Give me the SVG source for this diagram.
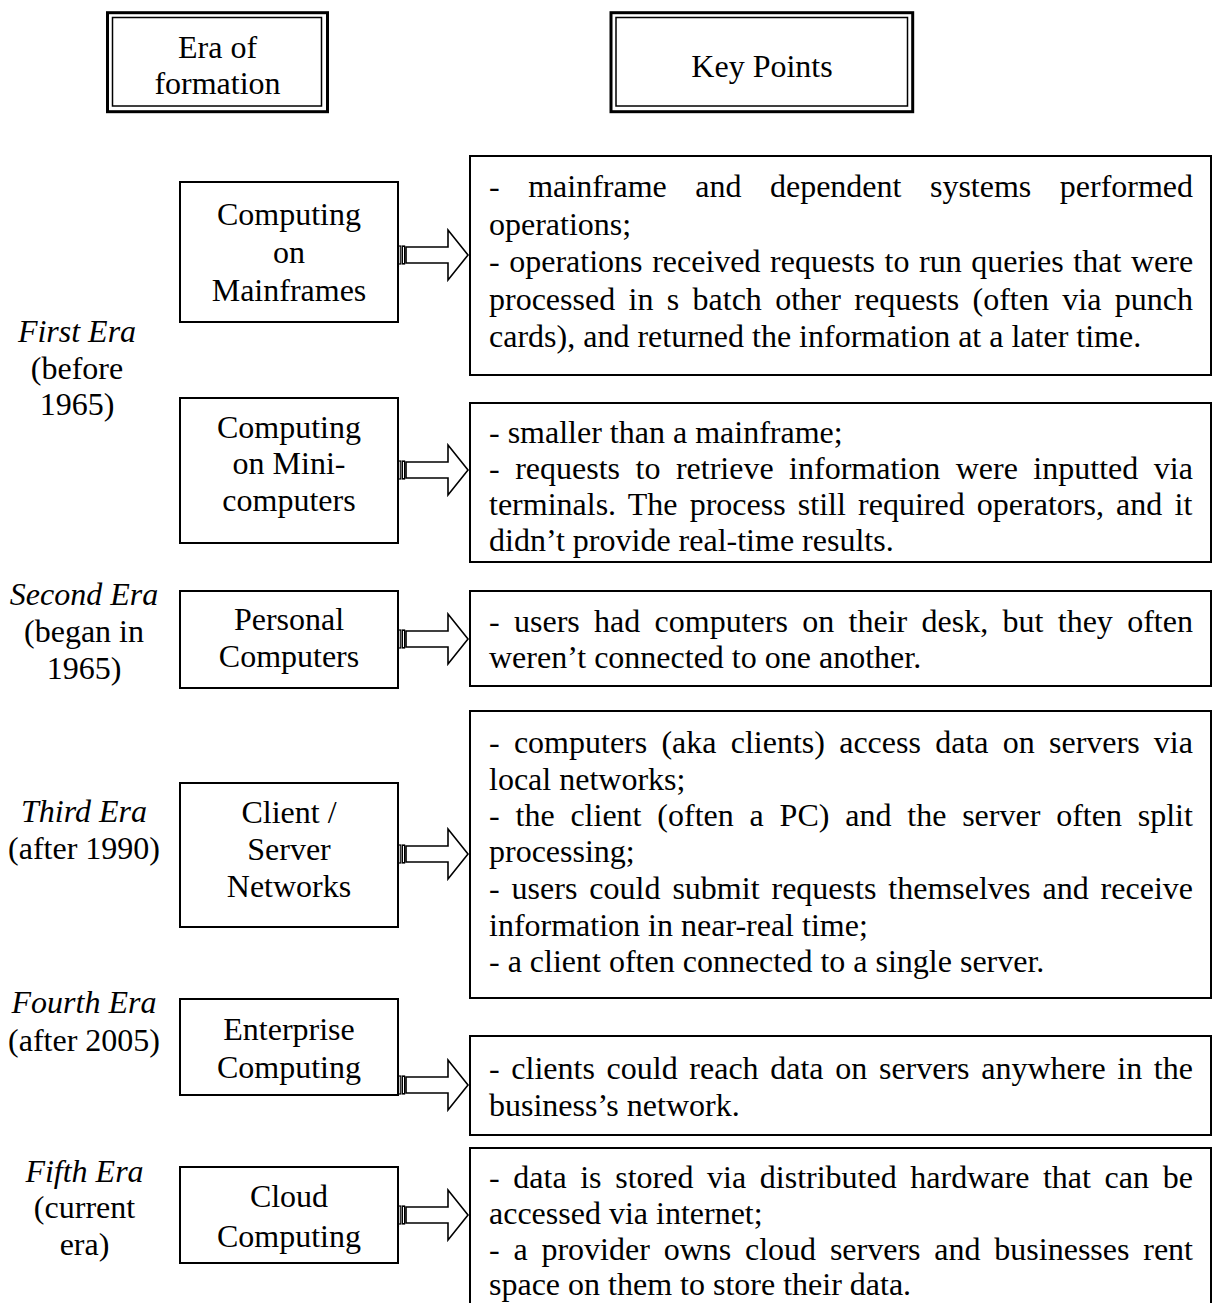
<svg xmlns="http://www.w3.org/2000/svg" width="1213" height="1303" viewBox="0 0 1213 1303">
<defs>
<style>
text{font-family:"Liberation Serif","Times New Roman",serif;font-size:32px;fill:#000}
.c{text-anchor:middle}
.it{font-style:italic}
.box{fill:#fff;stroke:#000;stroke-width:2}
.outer{fill:#fff;stroke:#000;stroke-width:3}
.inner{fill:none;stroke:#000;stroke-width:1.5}
.arr{fill:#fff;stroke:#000;stroke-width:1.6;stroke-linejoin:miter}
.bar{fill:#fff;stroke:#000;stroke-width:1.2}
</style>
<g id="arrowShape">
<rect class="bar" x="398.6" y="-9" width="2.2" height="18"/>
<rect class="bar" x="402.4" y="-9" width="2.2" height="18"/>
<polygon class="arr" points="406,-8 448,-8 448,-25 468,0 448,25 448,8 406,8"/>
</g>
</defs>
<rect width="1213" height="1303" fill="#fff"/>

<g id="header-era">
<rect class="outer" x="107.5" y="12.7" width="220" height="99"/>
<rect class="inner" x="112.5" y="17.5" width="209" height="88.5"/>
<text class="c" x="217.5" y="58">Era of</text>
<text class="c" x="217.5" y="94">formation</text>
</g>
<g id="header-key">
<rect class="outer" x="611" y="12.7" width="301.7" height="99"/>
<rect class="inner" x="616" y="17.5" width="291.5" height="88.5"/>
<text class="c" x="762" y="77">Key Points</text>
</g>

<g id="era-labels">
<text class="c it" x="77" y="342">First Era</text>
<text class="c" x="77" y="379">(before</text>
<text class="c" x="77" y="415">1965)</text>
<text class="c it" x="84" y="605">Second Era</text>
<text class="c" x="84" y="642">(began in</text>
<text class="c" x="84" y="679">1965)</text>
<text class="c it" x="84" y="822">Third Era</text>
<text class="c" x="84" y="859">(after 1990)</text>
<text class="c it" x="84" y="1013">Fourth Era</text>
<text class="c" x="84" y="1051">(after 2005)</text>
<text class="c it" x="84.5" y="1182">Fifth Era</text>
<text class="c" x="84.5" y="1218">(current</text>
<text class="c" x="84.5" y="1255">era)</text>
</g>

<g id="node-mainframes">
<rect class="box" x="180" y="182" width="218" height="140"/>
<text class="c" x="289" y="225">Computing</text>
<text class="c" x="289" y="263">on</text>
<text class="c" x="289" y="301">Mainframes</text>
</g>
<g id="node-minicomputers">
<rect class="box" x="180" y="398" width="218" height="145"/>
<text class="c" x="289" y="438">Computing</text>
<text class="c" x="289" y="474">on Mini-</text>
<text class="c" x="289" y="511">computers</text>
</g>
<g id="node-personal">
<rect class="box" x="180" y="591" width="218" height="97"/>
<text class="c" x="289" y="630">Personal</text>
<text class="c" x="289" y="667">Computers</text>
</g>
<g id="node-client-server">
<rect class="box" x="180" y="783" width="218" height="144"/>
<text class="c" x="289" y="823">Client /</text>
<text class="c" x="289" y="860">Server</text>
<text class="c" x="289" y="897">Networks</text>
</g>
<g id="node-enterprise">
<rect class="box" x="180" y="999" width="218" height="96"/>
<text class="c" x="289" y="1040">Enterprise</text>
<text class="c" x="289" y="1078">Computing</text>
</g>
<g id="node-cloud">
<rect class="box" x="180" y="1167" width="218" height="96"/>
<text class="c" x="289" y="1207">Cloud</text>
<text class="c" x="289" y="1247">Computing</text>
</g>

<g id="kp-mainframes">
<rect class="box" x="470" y="156" width="741" height="219"/>
<text x="489" y="197" word-spacing="20.5">- mainframe and dependent systems performed</text>
<text x="489" y="235">operations;</text>
<text x="489" y="272" word-spacing="1.6">- operations received requests to run queries that were</text>
<text x="489" y="310" word-spacing="5.35">processed in s batch other requests (often via punch</text>
<text x="489" y="347">cards), and returned the information at a later time.</text>
</g>
<g id="kp-minicomputers">
<rect class="box" x="470" y="403" width="741" height="159"/>
<text x="489" y="443">- smaller than a mainframe;</text>
<text x="489" y="479" word-spacing="7.5">- requests to retrieve information were inputted via</text>
<text x="489" y="515" word-spacing="4.2">terminals. The process still required operators, and it</text>
<text x="489" y="551">didn’t provide real-time results.</text>
</g>
<g id="kp-personal">
<rect class="box" x="470" y="591" width="741" height="95"/>
<text x="489" y="632" word-spacing="6.33">- users had computers on their desk, but they often</text>
<text x="489" y="668">weren’t connected to one another.</text>
</g>
<g id="kp-client-server">
<rect class="box" x="470" y="711" width="741" height="287"/>
<text x="489" y="753" word-spacing="6.25">- computers (aka clients) access data on servers via</text>
<text x="489" y="790">local networks;</text>
<text x="489" y="826" word-spacing="7.83">- the client (often a PC) and the server often split</text>
<text x="489" y="862">processing;</text>
<text x="489" y="899" word-spacing="3.96">- users could submit requests themselves and receive</text>
<text x="489" y="936">information in near-real time;</text>
<text x="489" y="972">- a client often connected to a single server.</text>
</g>
<g id="kp-enterprise">
<rect class="box" x="470" y="1036" width="741" height="99"/>
<text x="489" y="1079" word-spacing="3.68">- clients could reach data on servers anywhere in the</text>
<text x="489" y="1116">business’s network.</text>
</g>
<g id="kp-cloud">
<rect class="box" x="470" y="1148" width="741" height="180"/>
<text x="489" y="1188" word-spacing="5.64">- data is stored via distributed hardware that can be</text>
<text x="489" y="1224">accessed via internet;</text>
<text x="489" y="1260" word-spacing="5.8">- a provider owns cloud servers and businesses rent</text>
<text x="489" y="1295">space on them to store their data.</text>
</g>

<g id="connectors">
<use href="#arrowShape" y="255"/>
<use href="#arrowShape" y="470"/>
<use href="#arrowShape" y="639"/>
<use href="#arrowShape" y="854"/>
<use href="#arrowShape" y="1085"/>
<use href="#arrowShape" y="1215"/>
</g>
</svg>
